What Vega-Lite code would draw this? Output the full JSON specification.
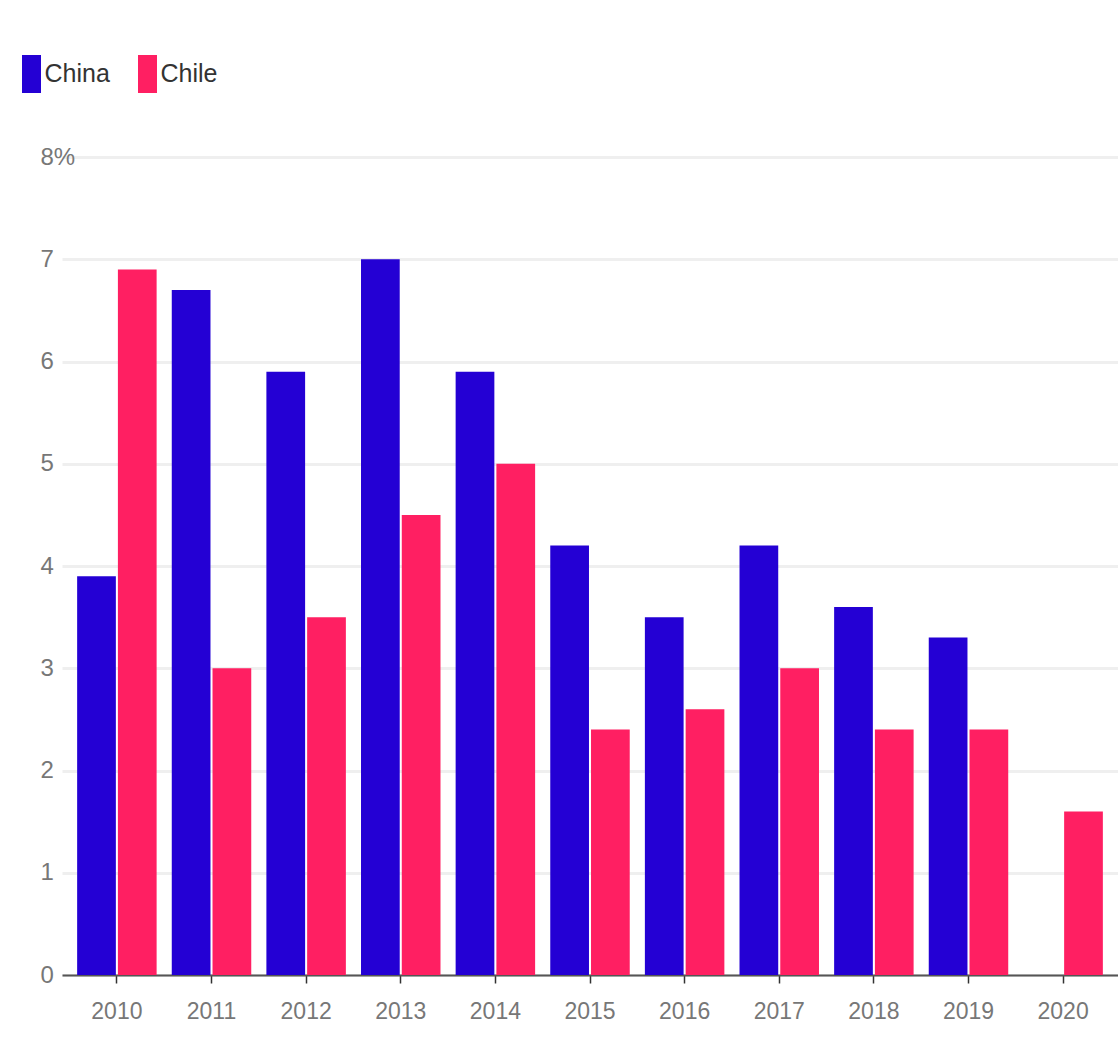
{
  "$schema": "https://vega.github.io/schema/vega-lite/v6.json",
  "width": 1056,
  "height": 818,
  "autosize": {"type": "none"},
  "padding": {"left": 62, "top": 157, "right": 0, "bottom": 63},
  "background": "white",
  "config": {
    "view": {"stroke": null},
    "font": "Liberation Sans, Arial, sans-serif"
  },
  "data": {
    "values": [
      {"year": "2010", "country": "China", "value": 3.9},
      {"year": "2010", "country": "Chile", "value": 6.9},
      {"year": "2011", "country": "China", "value": 6.7},
      {"year": "2011", "country": "Chile", "value": 3.0},
      {"year": "2012", "country": "China", "value": 5.9},
      {"year": "2012", "country": "Chile", "value": 3.5},
      {"year": "2013", "country": "China", "value": 7.0},
      {"year": "2013", "country": "Chile", "value": 4.5},
      {"year": "2014", "country": "China", "value": 5.9},
      {"year": "2014", "country": "Chile", "value": 5.0},
      {"year": "2015", "country": "China", "value": 4.2},
      {"year": "2015", "country": "Chile", "value": 2.4},
      {"year": "2016", "country": "China", "value": 3.5},
      {"year": "2016", "country": "Chile", "value": 2.6},
      {"year": "2017", "country": "China", "value": 4.2},
      {"year": "2017", "country": "Chile", "value": 3.0},
      {"year": "2018", "country": "China", "value": 3.6},
      {"year": "2018", "country": "Chile", "value": 2.4},
      {"year": "2019", "country": "China", "value": 3.3},
      {"year": "2019", "country": "Chile", "value": 2.4},
      {"year": "2020", "country": "Chile", "value": 1.6}
    ]
  },
  "mark": {"type": "bar"},
  "encoding": {
    "x": {
      "field": "year",
      "type": "nominal",
      "scale": {"paddingInner": 0.16, "paddingOuter": 0.16},
      "axis": {
        "title": null,
        "labelAngle": 0,
        "labelFontSize": 23,
        "labelColor": "#777777",
        "labelPadding": 17,
        "domainColor": "#555555",
        "domainWidth": 2,
        "tickColor": "#333333",
        "tickSize": 8,
        "tickWidth": 1.5,
        "grid": false
      }
    },
    "xOffset": {
      "field": "country",
      "type": "nominal",
      "sort": ["China", "Chile"],
      "scale": {"paddingInner": 0.05}
    },
    "y": {
      "field": "value",
      "type": "quantitative",
      "scale": {"domain": [0, 8], "nice": false},
      "axis": {
        "title": null,
        "values": [0, 1, 2, 3, 4, 5, 6, 7, 8],
        "labelExpr": "datum.value == 8 ? '8%' : datum.label",
        "labelFontSize": 24,
        "labelColor": "#777777",
        "labelAlign": "left",
        "labelPadding": 22,
        "ticks": false,
        "tickSize": 0,
        "domain": false,
        "grid": true,
        "gridColor": "#efefef",
        "gridWidth": 3
      }
    },
    "color": {
      "field": "country",
      "type": "nominal",
      "sort": ["China", "Chile"],
      "scale": {"domain": ["China", "Chile"], "range": ["#2400D4", "#FF1F62"]},
      "legend": {
        "title": null,
        "orient": "none",
        "direction": "horizontal",
        "padding": 0,
        "legendX": -49.5,
        "legendY": -102,
        "symbolType": "M-0.5,-1H0.5V1H-0.5Z",
        "symbolSize": 1444,
        "symbolStrokeWidth": 0,
        "symbolOpacity": 1,
        "labelFontSize": 25,
        "labelColor": "#333333",
        "labelOffset": -6,
        "columnPadding": 18
      }
    }
  }
}
